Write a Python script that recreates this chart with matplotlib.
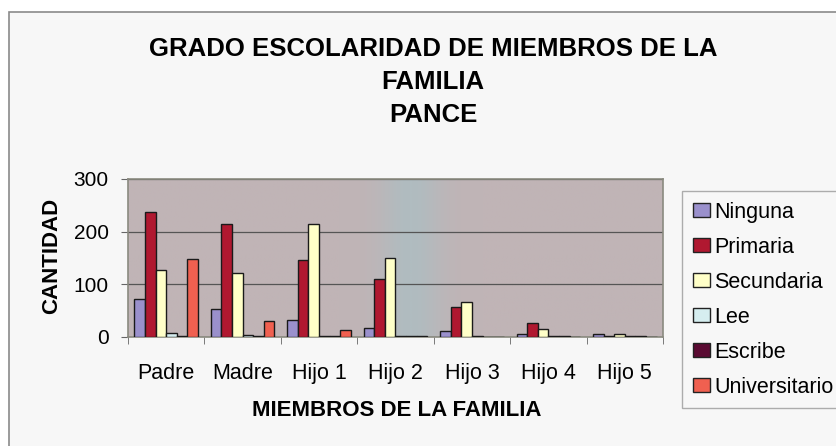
import numpy as np
import matplotlib.pyplot as plt
from matplotlib.patches import Rectangle
from matplotlib.colors import LinearSegmentedColormap

# datos
miembros = ['Padre', 'Madre', 'Hijo 1', 'Hijo 2', 'Hijo 3', 'Hijo 4', 'Hijo 5']
ninguna = [73, 53, 33, 17, 11, 5, 5]
primaria = [238, 215, 147, 111, 57, 26, 2]
secundaria = [128, 122, 215, 150, 66, 15, 5]
lee = [8, 3, 2, 2, 2, 2, 2]
escribe = [1, 2, 1, 1, 0, 1, 1]
universitario = [149, 30, 14, 1, 0, 0, 0]

series = ['Ninguna', 'Primaria', 'Secundaria', 'Lee', 'Escribe', 'Universitario']
valores = [ninguna, primaria, secundaria, lee, escribe, universitario]
colores = ['#9a90cc', '#b01830', '#ffffc8', '#d6eef0', '#5a0a32', '#f06050']

plt.rcParams['font.family'] = ['Liberation Sans', 'DejaVu Sans']
W, H = 837, 446

fig = plt.figure(figsize=(W/100, H/100), dpi=100)
fig.patch.set_facecolor('white')
# marco del area del grafico
fig.add_artist(Rectangle((9/W, -0.01), 1, 1 - 12/H + 0.01, transform=fig.transFigure,
                         facecolor='#f7f7f7', edgecolor='#8a8a8a', lw=1.2, zorder=-10))

ax = fig.add_axes([128/W, 1 - 337/H, (663-128)/W, (337-179)/H])
ax.set_facecolor('#c0b4b6')

# fondo del area de trazado, con la franja azulada del escaneo
fondo = LinearSegmentedColormap.from_list('fondo', ['#c0b4b6', '#b0bcc0'])
xx = np.linspace(-0.5, 6.5, 400)
franja = np.exp(-((xx - 3.2) / 0.4) ** 2)
ax.imshow(franja[None, :], cmap=fondo, aspect='auto', vmin=0, vmax=1,
          extent=(-0.5, 6.5, 0, 300), zorder=0)

x = np.arange(len(miembros))
n = len(series)
w = 0.83 / n
for i, (nom, vals, c) in enumerate(zip(series, valores, colores)):
    ax.bar(x - 0.415 + w*(i+0.5), vals, w, color=c, edgecolor='#1a1a1a',
           linewidth=1.0, label=nom, zorder=3)

ax.set_xlim(-0.5, len(miembros) - 0.5)
ax.set_ylim(0, 300)
ax.set_yticks([0, 100, 200, 300])
ax.set_xticks(np.arange(len(miembros) + 1) - 0.5, minor=True)
ax.set_xticks(x)
ax.set_xticklabels(miembros)
ax.tick_params(axis='x', which='major', length=0, labelsize=15.5, pad=19)
ax.tick_params(axis='x', which='minor', length=5, color='#666666')
ax.tick_params(axis='y', length=5, labelsize=15, color='#666666', pad=9)
ax.yaxis.grid(True, color='#555555', lw=0.9, zorder=1)
for s in ax.spines.values():
    s.set_color('#8a8a80')
    s.set_linewidth(1.2)

fig.text(52/W, 1 - 256/H, 'CANTIDAD', rotation=90, ha='center', va='center',
         fontsize=16, fontweight='bold')
fig.text(397/W, 1 - 411/H, 'MIEMBROS DE LA FAMILIA', ha='center', va='center',
         fontsize=16, fontweight='bold')

fig.text(433/W, 1 - 82/H, 'GRADO ESCOLARIDAD DE MIEMBROS DE LA\nFAMILIA\nPANCE',
         ha='center', va='center', fontsize=18.5, fontweight='bold', linespacing=1.5)

leg = fig.legend(loc='upper left', bbox_to_anchor=(682/W, 1 - 191/H),
                 fontsize=15.5, frameon=True, fancybox=False, edgecolor='#999999',
                 facecolor='#f7f7f7', handlelength=0.8, handleheight=0.65,
                 handletextpad=0.2, labelspacing=0.65, borderpad=0.5,
                 borderaxespad=0)
leg.get_frame().set_linewidth(1.0)
for h in leg.legend_handles:
    h.set_edgecolor('#222222')

fig.savefig('out.png', dpi=100)
